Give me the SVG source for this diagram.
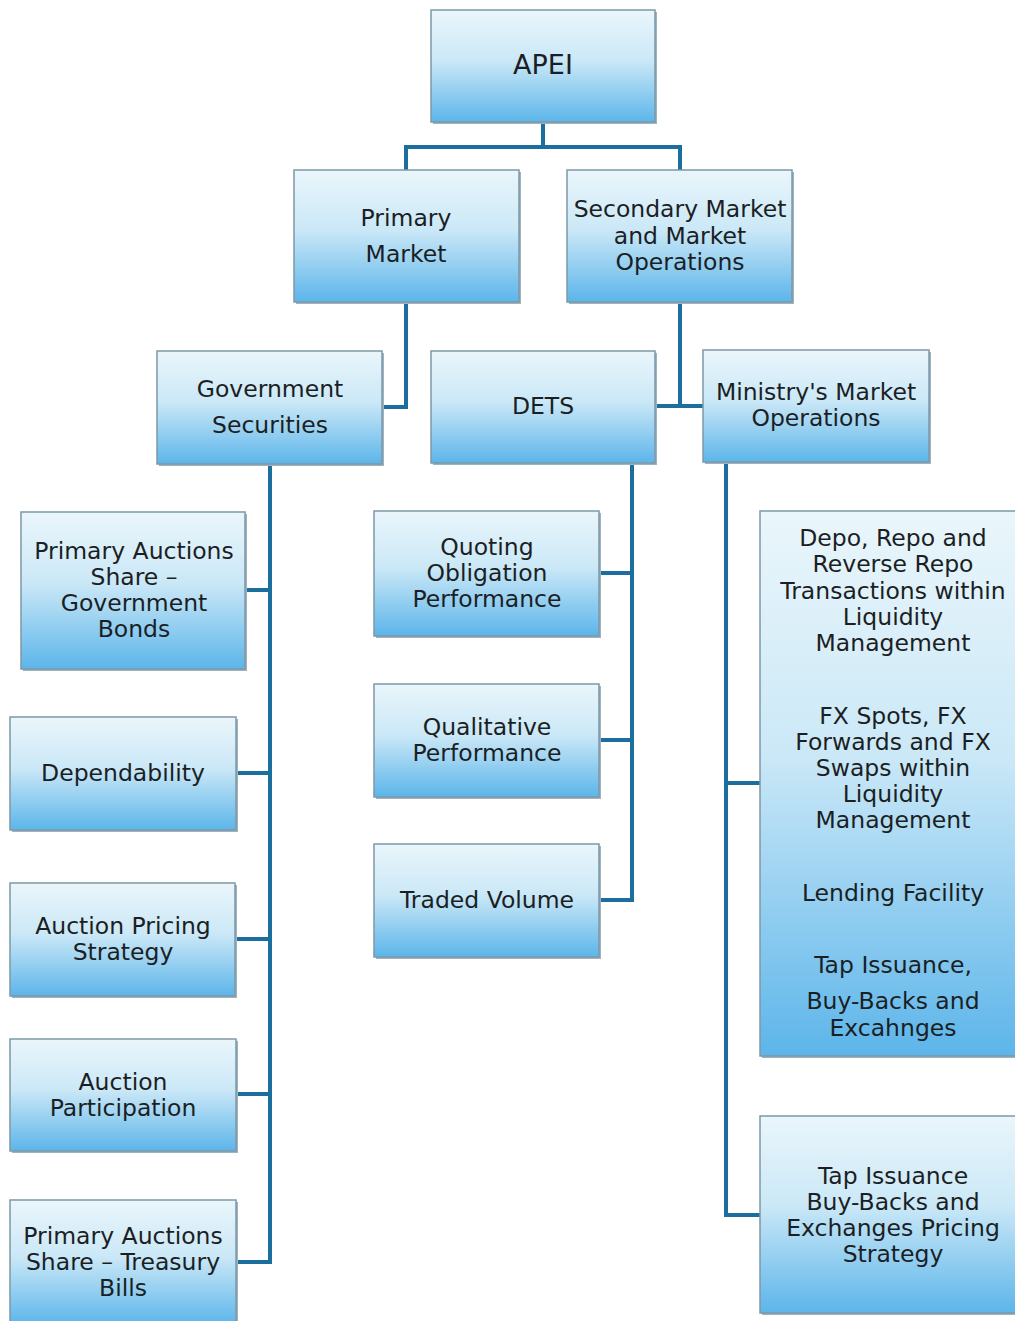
<svg xmlns="http://www.w3.org/2000/svg" width="1015" height="1321" viewBox="0 0 1015 1321">
<defs>
<linearGradient id="g" x1="0" y1="0" x2="0" y2="1">
<stop offset="0" stop-color="#eaf6fb"/>
<stop offset="0.45" stop-color="#cbe8f7"/>
<stop offset="1" stop-color="#5cb5ea"/>
</linearGradient>
<style>
.box{fill:url(#g);stroke:#7d98a8;stroke-width:1.5}
.sh{fill:#9fb3bf}
.t{font-family:"DejaVu Sans",Verdana,sans-serif;font-size:23.5px;fill:#1b1f24;text-anchor:middle}
.c{fill:none;stroke:#1c6e9e;stroke-width:4;stroke-linejoin:miter}
</style>
</defs>
<rect width="1015" height="1321" fill="#ffffff"/>
<g id="connectors">
<path class="c" d="M543 122V147M406 170V147H680V170"/>
<path class="c" d="M406 302V407H382"/>
<path class="c" d="M680 302V406M655 406H703"/>
<path class="c" d="M270 464V1262H236M245 590H270M236 773H270M235 939H270M236 1094H270"/>
<path class="c" d="M632 463V900H599M599 573H632M599 740H632"/>
<path class="c" d="M726 462V1215H760M726 783H760"/>
</g>
<g id="apei"><rect class="sh" x="433" y="12" width="224" height="112"/><rect class="box" x="431" y="10" width="224" height="112"/><text class="t" x="543" y="74" style="font-size:27px">APEI</text></g>
<g id="primary-market"><rect class="sh" x="296" y="172" width="225" height="132"/><rect class="box" x="294" y="170" width="225" height="132"/><text class="t" x="406" y="226">Primary</text><text class="t" x="406" y="262">Market</text></g>
<g id="secondary-market"><rect class="sh" x="569" y="172" width="225" height="132"/><rect class="box" x="567" y="170" width="225" height="132"/><text class="t" x="680" y="217">Secondary Market</text><text class="t" x="680" y="244">and Market</text><text class="t" x="680" y="270">Operations</text></g>
<g id="government-securities"><rect class="sh" x="159" y="353" width="225" height="113"/><rect class="box" x="157" y="351" width="225" height="113"/><text class="t" x="270" y="397">Government</text><text class="t" x="270" y="433">Securities</text></g>
<g id="dets"><rect class="sh" x="433" y="353" width="224" height="112"/><rect class="box" x="431" y="351" width="224" height="112"/><text class="t" x="543" y="414">DETS</text></g>
<g id="ministry"><rect class="sh" x="705" y="352" width="226" height="112"/><rect class="box" x="703" y="350" width="226" height="112"/><text class="t" x="816" y="400">Ministry's Market</text><text class="t" x="816" y="426">Operations</text></g>
<g id="pas-bonds"><rect class="sh" x="23" y="514" width="224" height="157"/><rect class="box" x="21" y="512" width="224" height="157"/><text class="t" x="134" y="559">Primary Auctions</text><text class="t" x="134" y="585">Share –</text><text class="t" x="134" y="611">Government</text><text class="t" x="134" y="637">Bonds</text></g>
<g id="dependability"><rect class="sh" x="12" y="719" width="226" height="113"/><rect class="box" x="10" y="717" width="226" height="113"/><text class="t" x="123" y="781">Dependability</text></g>
<g id="auction-pricing"><rect class="sh" x="12" y="885" width="225" height="113"/><rect class="box" x="10" y="883" width="225" height="113"/><text class="t" x="123" y="934">Auction Pricing</text><text class="t" x="123" y="960">Strategy</text></g>
<g id="auction-participation"><rect class="sh" x="12" y="1041" width="226" height="112"/><rect class="box" x="10" y="1039" width="226" height="112"/><text class="t" x="123" y="1090">Auction</text><text class="t" x="123" y="1116">Participation</text></g>
<g id="pas-bills"><rect class="sh" x="12" y="1202" width="226" height="125"/><rect class="box" x="10" y="1200" width="226" height="125"/><text class="t" x="123" y="1244">Primary Auctions</text><text class="t" x="123" y="1270">Share – Treasury</text><text class="t" x="123" y="1296">Bills</text></g>
<g id="quoting"><rect class="sh" x="376" y="513" width="225" height="125"/><rect class="box" x="374" y="511" width="225" height="125"/><text class="t" x="487" y="555">Quoting</text><text class="t" x="487" y="581">Obligation</text><text class="t" x="487" y="607">Performance</text></g>
<g id="qualitative"><rect class="sh" x="376" y="686" width="225" height="113"/><rect class="box" x="374" y="684" width="225" height="113"/><text class="t" x="487" y="735">Qualitative</text><text class="t" x="487" y="761">Performance</text></g>
<g id="traded-volume"><rect class="sh" x="376" y="846" width="225" height="113"/><rect class="box" x="374" y="844" width="225" height="113"/><text class="t" x="487" y="908">Traded Volume</text></g>
<g id="operations-list"><rect class="sh" x="762" y="513" width="260" height="545"/><rect class="box" x="760" y="511" width="260" height="545"/>
<text class="t" x="893" y="546">Depo, Repo and</text><text class="t" x="893" y="572">Reverse Repo</text><text class="t" x="893" y="599">Transactions within</text><text class="t" x="893" y="625">Liquidity</text><text class="t" x="893" y="651">Management</text>
<text class="t" x="893" y="724">FX Spots, FX</text><text class="t" x="893" y="750">Forwards and FX</text><text class="t" x="893" y="776">Swaps within</text><text class="t" x="893" y="802">Liquidity</text><text class="t" x="893" y="828">Management</text>
<text class="t" x="893" y="901">Lending Facility</text>
<text class="t" x="893" y="973">Tap Issuance,</text><text class="t" x="893" y="1009">Buy-Backs and</text><text class="t" x="893" y="1036">Excahnges</text></g>
<g id="tap-pricing"><rect class="sh" x="762" y="1118" width="260" height="197"/><rect class="box" x="760" y="1116" width="260" height="197"/><text class="t" x="893" y="1184">Tap Issuance</text><text class="t" x="893" y="1210">Buy-Backs and</text><text class="t" x="893" y="1236">Exchanges Pricing</text><text class="t" x="893" y="1262">Strategy</text></g>
</svg>
